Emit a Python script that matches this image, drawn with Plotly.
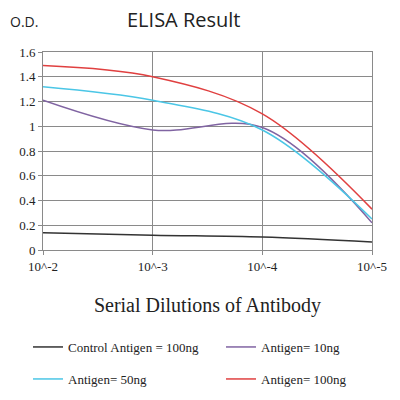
import plotly.graph_objects as go

# data
dilutions = ["10^-2", "10^-3", "10^-4", "10^-5"]
control_100 = [0.14, 0.12, 0.105, 0.065]
antigen_10 = [1.21, 0.97, 0.99, 0.22]
antigen_50 = [1.32, 1.21, 0.97, 0.25]
antigen_100 = [1.49, 1.40, 1.10, 0.33]

names = ["Control Antigen = 100ng", "Antigen= 10ng", "Antigen= 50ng", "Antigen= 100ng"]
colors = ["#333333", "#8064A2", "#4BC6E6", "#E04040"]
series = [control_100, antigen_10, antigen_50, antigen_100]

# page has an 8px body margin, so the figure is drawn 392 px square
W = 392
legend_ids = ["legend", "legend2", "legend3", "legend4"]
legend_xy = [(20, 339), (213, 339), (20, 371), (213, 371)]

fig = go.Figure()
for name, vals, col, lg in zip(names, series, colors, legend_ids):
    fig.add_trace(go.Scatter(x=dilutions, y=vals, name=name, mode="lines", legend=lg,
                             line=dict(color=col, width=1.5, shape="spline", smoothing=1.0)))

serif = "Liberation Serif, Times New Roman, serif"
sans = "Open Sans, Liberation Sans, sans-serif"
legends = {}
for lg, (lx, ly) in zip(legend_ids, legend_xy):
    legends[lg] = dict(orientation="h", xref="container", yref="container",
                       x=lx / W, y=1 - ly / W, xanchor="left", yanchor="middle",
                       itemwidth=30, font=dict(family=serif, size=13, color="#222"),
                       bgcolor="rgba(0,0,0,0)")

fig.update_layout(
    width=W, height=W,
    margin=dict(l=35, r=28, t=44, b=150, autoexpand=False),
    paper_bgcolor="white", plot_bgcolor="white",
    font=dict(family=serif, color="#222"),
    showlegend=True,
    **legends,
)
fig.update_xaxes(type="category", range=[0, 3], showgrid=True, gridcolor="#8a8a8a",
                 showline=True, linecolor="#8a8a8a", mirror=True,
                 ticks="outside", ticklen=4, tickcolor="#8a8a8a",
                 tickfont=dict(size=13), automargin=False,
                 title=dict(text="Serial Dilutions of Antibody", font=dict(size=20), standoff=25))
fig.update_yaxes(range=[0, 1.6], dtick=0.2, showgrid=True, gridcolor="#8a8a8a",
                 showline=True, linecolor="#8a8a8a", mirror=True,
                 ticks="outside", ticklen=4, tickcolor="#8a8a8a", automargin=False,
                 zeroline=False, tickfont=dict(size=13))
# chart title and y unit as annotations in the top margin
fig.add_annotation(text="ELISA Result", xref="paper", yref="paper", x=0.43, y=1.165,
                   xanchor="center", yanchor="middle", showarrow=False,
                   font=dict(family=sans, size=20, color="#222"))
fig.add_annotation(text="O.D.", xref="paper", yref="paper", x=-0.106, y=1.155,
                   xanchor="left", yanchor="middle", showarrow=False,
                   font=dict(family=sans, size=14, color="#222"))

fig.write_html("out.html")
